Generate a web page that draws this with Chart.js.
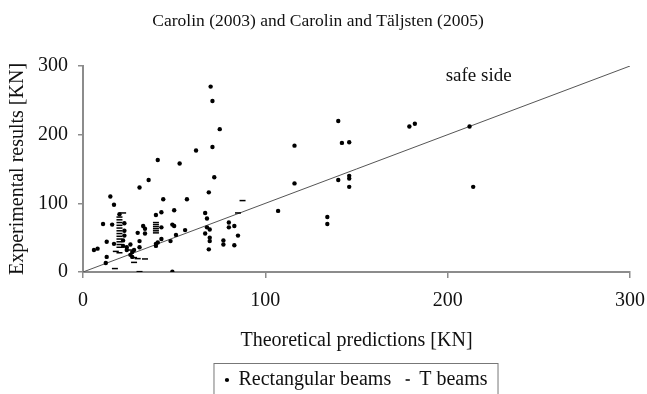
<!DOCTYPE html>
<html>
<head>
<meta charset="utf-8">
<script src="https://cdn.jsdelivr.net/npm/chart.js@4.4.1/dist/chart.umd.min.js"></script>
<style>
  html, body { margin: 0; padding: 0; background: #fff; }
  #wrap { width: 647px; height: 394px; }
</style>
</head>
<body>
<div id="wrap"><canvas id="chart"></canvas></div>
<script>
// values (theoretical, experimental) in KN
const rectX = [70, 71, 75, 71, 62, 41, 53, 36, 31, 15, 17, 72, 69, 57, 44, 50, 20, 40, 43,
  116, 116, 107, 140, 142, 146, 179, 182, 212, 140, 146, 146, 146, 214, 134, 134,
  67, 68, 68, 69.5, 67, 69.5, 69.5, 77, 77, 69, 80, 83, 80, 85, 83,
  11, 16, 22.7, 22.7, 22.7, 33, 34, 30, 34, 31, 13, 17, 26, 6, 8, 24, 24, 28, 27, 31, 26, 13, 12.5, 27,
  49, 43, 49, 50, 56, 51, 43, 40, 40, 48, 41, 22, 22];
const rectY = [270, 249, 208, 182, 177, 163, 158, 134, 123, 110, 98, 138, 116, 106, 106, 90, 84, 83, 87,
  184, 129, 89, 220, 188, 189, 212, 216, 212, 134, 140, 136, 124, 124, 80, 70,
  86, 78, 65, 62, 56, 50, 45, 46, 40, 33, 72, 67, 65, 53, 39,
  70, 69, 71, 60, 53, 67, 63, 57, 56, 45, 44, 41, 40, 32, 34, 36, 32, 32, 29, 36, 25, 22, 13, 22,
  0.5, 65, 69, 67, 61, 54, 48, 41, 38, 45, 43, 46, 38];
const tX = [22, 20, 20, 20, 20, 20, 20, 20, 20, 20, 20, 20, 20, 40, 40, 40, 40, 40, 40,
  87.5, 85, 18, 20, 26, 28, 30, 34, 17.5, 31, 28];
const tY = [86, 80, 76, 72, 68, 64, 60, 56, 52, 48, 44, 40, 36, 72, 69, 66, 63, 60, 57,
  104, 86, 30, 28, 32, 21, 19.5, 19, 5, 0.5, 14];
const safeLineX = [0, 300];
const xTicks = [0, 100, 200, 300];
const yTicks = [0, 100, 200, 300];

const serif = "'Liberation Serif', 'DejaVu Serif', serif";
const axisGray = "#8c8c8c";

function pairs(xs, ys) {
  return xs.map((x, i) => ({ x: x, y: ys[i] }));
}

// "safe side" note + frame round the legend
const extras = {
  id: "extras",
  afterDraw(chart) {
    const ctx = chart.ctx;
    const sx = chart.scales.x, sy = chart.scales.y;
    ctx.save();
    ctx.font = "19px " + serif;
    ctx.fillStyle = "#111";
    ctx.textAlign = "center";
    ctx.textBaseline = "middle";
    ctx.fillText("safe side", sx.getPixelForValue(217), sy.getPixelForValue(286));

    const boxes = chart.legend.legendHitBoxes;
    if (boxes && boxes.length) {
      const left = Math.min(...boxes.map((b) => b.left)) - 12;
      const right = Math.max(...boxes.map((b) => b.left + b.width)) + 10;
      const top = boxes[0].top - 7;
      ctx.strokeStyle = "#777";
      ctx.lineWidth = 1;
      ctx.strokeRect(left + 0.5, top + 0.5, right - left, 60);
    }
    ctx.restore();
  },
};

new Chart(document.getElementById("chart"), {
  type: "scatter",
  data: {
    datasets: [
      {
        label: "Rectangular beams   ",
        data: pairs(rectX, rectY),
        pointStyle: "circle",
        pointRadius: 2.2,
        backgroundColor: "#000",
        borderColor: "#000",
        borderWidth: 0,
      },
      {
        label: "T beams",
        data: pairs(tX, tY),
        pointStyle: "line",
        pointRadius: 3,
        borderColor: "#000",
        borderWidth: 1.5,
      },
      {
        type: "line",
        label: "safe",
        data: pairs(safeLineX, safeLineX),
        borderColor: "#555",
        borderWidth: 1,
        pointRadius: 0,
        fill: false,
      },
    ],
  },
  options: {
    responsive: true,
    maintainAspectRatio: false,
    animation: false,
    layout: { padding: { left: 6, right: 17, top: 0, bottom: -6 } },
    plugins: {
      title: {
        display: true,
        text: "Carolin (2003) and Carolin and Täljsten (2005)",
        color: "#111",
        font: { family: serif, size: 17.5, weight: "normal" },
        padding: { top: 11, bottom: 34 },
      },
      legend: {
        position: "bottom",
        fullSize: false,
        labels: {
          color: "#111",
          font: { family: serif, size: 20 },
          usePointStyle: true,
          boxHeight: 3,
          boxWidth: 3,
          padding: 0,
          filter: (item) => item.text !== "safe",
        },
      },
      tooltip: { enabled: false },
    },
    scales: {
      x: {
        type: "linear",
        min: 0,
        max: 300,
        afterBuildTicks: (scale) => { scale.ticks = xTicks.map((v) => ({ value: v })); },
        afterFit: (scale) => {
          scale.height = 98;
          scale.paddingLeft = 0;
          scale.paddingRight = 0;
        },
        ticks: { color: "#111", font: { family: serif, size: 20 }, padding: 11 },
        grid: { drawOnChartArea: false, drawTicks: true, tickLength: 6, color: axisGray, lineWidth: 1.5 },
        border: { color: axisGray, width: 2 },
        title: {
          display: true,
          text: "Theoretical predictions [KN]",
          color: "#111",
          font: { family: serif, size: 20 },
          padding: { top: 11, bottom: 17 },
        },
      },
      y: {
        type: "linear",
        min: 0,
        max: 300,
        afterBuildTicks: (scale) => { scale.ticks = yTicks.map((v) => ({ value: v })); },
        afterFit: (scale) => { scale.width = 77; },
        ticks: { color: "#111", font: { family: serif, size: 20 }, padding: 10 },
        grid: { drawOnChartArea: false, drawTicks: true, tickLength: 5, color: axisGray, lineWidth: 1.5 },
        border: { color: axisGray, width: 2 },
        title: {
          display: true,
          text: "Experimental results [KN]",
          color: "#111",
          font: { family: serif, size: 20 },
          padding: { top: 0, bottom: 8 },
        },
      },
    },
  },
  plugins: [extras],
});
</script>
</body>
</html>
